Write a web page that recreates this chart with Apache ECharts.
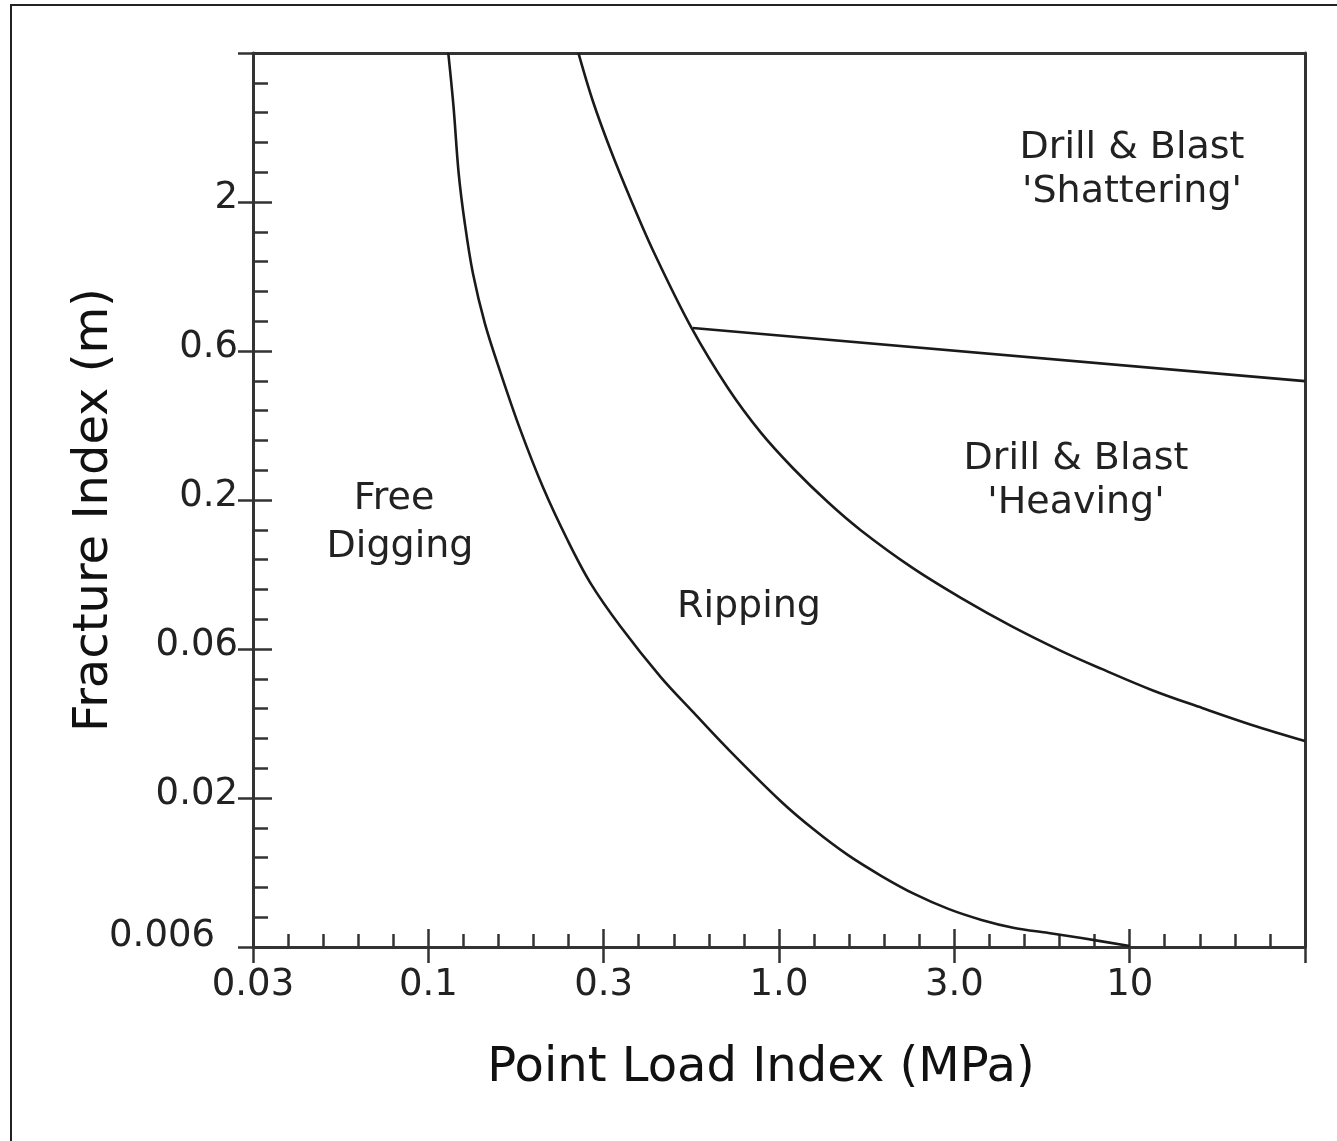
<!DOCTYPE html>
<html>
<head>
<meta charset="utf-8">
<script src="https://cdn.jsdelivr.net/npm/echarts@6/dist/echarts.min.js"></script>
<style>
html,body{margin:0;padding:0;background:#fff;}
#chart{width:1337px;height:1141px;}
</style>
</head>
<body>
<div id="chart"></div>
<script>
// ---- Data ----
// Tick labels (half-decade steps)
const xTickLabels = ['0.03', '0.1', '0.3', '1.0', '3.0', '10', ''];
const yTickLabels = ['0.006', '0.02', '0.06', '0.2', '0.6', '2', ''];

// Boundary: Free Digging / Ripping  (Point Load Index MPa, Fracture Index m)
const digRipX = [0.114, 0.118, 0.122, 0.127, 0.134, 0.145, 0.161, 0.183, 0.212, 0.249, 0.290, 0.354, 0.460, 0.572, 0.706, 1.01, 1.26, 1.57, 1.96, 2.43, 3.04, 3.78, 4.69, 5.87, 7.29, 10.0];
const digRipY = [6.30, 4.16, 2.50, 1.70, 1.15, 0.78, 0.53, 0.343, 0.221, 0.147, 0.105, 0.0748, 0.0508, 0.0385, 0.0296, 0.0195, 0.0156, 0.01285, 0.01092, 0.00951, 0.00847, 0.00778, 0.00731, 0.00703, 0.00676, 0.00636];

// Boundary: Ripping / Drill & Blast
const ripBlastX = [0.268, 0.294, 0.331, 0.378, 0.440, 0.561, 0.715, 0.889, 1.10, 1.38, 1.71, 2.38, 3.31, 4.60, 6.39, 8.32, 11.6, 16.1, 22.3, 31.6];
const ripBlastY = [6.30, 4.38, 2.98, 2.03, 1.35, 0.760, 0.474, 0.335, 0.254, 0.196, 0.158, 0.119, 0.0935, 0.0753, 0.0621, 0.0541, 0.0459, 0.0400, 0.0351, 0.0310];

// Boundary: Heaving / Shattering
const heaveShatterX = [0.568, 31.6];
const heaveShatterY = [0.754, 0.500];

// Region labels
const regionTexts = ['Drill & Blast', "'Shattering'", 'Drill & Blast', "'Heaving'", 'Free', 'Digging', 'Ripping'];

// ---- Axis ranges in log10 units ----
const X_MIN = -1.5, X_MAX = 1.5, Y_MIN = -2.2, Y_MAX = 0.8, STEP = 0.5;

function toPairs(xs, ys) {
  return xs.map((v, i) => [Math.log10(v), Math.log10(ys[i])]);
}

const FONT = '"DejaVu Sans", Verdana, sans-serif';
const AX = '#333';
const TXT = '#222';

const chart = echarts.init(document.getElementById('chart'), null, {renderer: 'canvas'});

function xLabel(v) {
  const i = Math.round((v - X_MIN) / STEP);
  return xTickLabels[i] || '';
}
function yLabel(v) {
  const i = Math.round((v - Y_MIN) / STEP);
  const t = yTickLabels[i] || '';
  return i === 0 ? '{low|' + t + '}' : t;
}

const lineW = 3, tickW = 2.5;

const option = {
  animation: false,
  backgroundColor: '#fff',
  grid: {left: 253, right: 32, top: 53, bottom: 194, containLabel: false},
  xAxis: [
    {
      type: 'value', position: 'bottom', min: X_MIN, max: X_MAX, interval: STEP,
      axisLine: {show: true, onZero: false, lineStyle: {color: AX, width: lineW}},
      axisTick: {show: true, inside: true, length: 18, lineStyle: {color: AX, width: tickW}},
      minorTick: {show: true, splitNumber: 5, length: 13, lineStyle: {color: AX, width: tickW}},
      splitLine: {show: false},
      axisLabel: {formatter: xLabel, margin: 20, fontSize: 37, fontFamily: FONT, color: TXT, hideOverlap: false, showMinLabel: true, showMaxLabel: true},
      name: 'Point Load Index (MPa)', nameLocation: 'middle', nameGap: 98, nameMoveOverlap: false,
      nameTextStyle: {fontSize: 48, fontFamily: FONT, color: '#111', padding: [0, 36, 0, 0]}
    },
    {
      type: 'value', position: 'bottom', min: X_MIN, max: X_MAX, interval: STEP,
      axisLine: {show: false, onZero: false},
      axisTick: {show: true, inside: false, length: 16, lineStyle: {color: AX, width: tickW}},
      axisLabel: {show: false}, splitLine: {show: false}
    },
    {
      type: 'value', position: 'top', min: X_MIN, max: X_MAX, interval: STEP,
      axisLine: {show: true, onZero: false, lineStyle: {color: AX, width: lineW}},
      axisTick: {show: false}, axisLabel: {show: false}, splitLine: {show: false}
    }
  ],
  yAxis: [
    {
      type: 'value', position: 'left', min: Y_MIN, max: Y_MAX, interval: STEP,
      axisLine: {show: true, onZero: false, lineStyle: {color: AX, width: lineW}},
      axisTick: {show: true, inside: true, length: 19, lineStyle: {color: AX, width: tickW}},
      minorTick: {show: true, splitNumber: 5, length: 15, lineStyle: {color: AX, width: tickW}},
      splitLine: {show: false},
      axisLabel: {
        formatter: yLabel, margin: 15, fontSize: 37, fontFamily: FONT, color: TXT,
        hideOverlap: false, showMinLabel: true, showMaxLabel: true, padding: [0, 0, 8, 0],
        rich: {low: {fontSize: 37, fontFamily: FONT, color: TXT, padding: [0, 23, 14, 0]}}
      },
      name: 'Fracture Index (m)', nameLocation: 'middle', nameGap: 134, nameMoveOverlap: false,
      nameTextStyle: {fontSize: 48, fontFamily: FONT, color: '#111', padding: [0, 20, 0, 0]}
    },
    {
      type: 'value', position: 'left', min: Y_MIN, max: Y_MAX, interval: STEP,
      axisLine: {show: false, onZero: false},
      axisTick: {show: true, inside: false, length: 15, lineStyle: {color: AX, width: tickW}},
      axisLabel: {show: false}, splitLine: {show: false}
    },
    {
      type: 'value', position: 'right', min: Y_MIN, max: Y_MAX, interval: STEP,
      axisLine: {show: true, onZero: false, lineStyle: {color: AX, width: lineW}},
      axisTick: {show: false}, axisLabel: {show: false}, splitLine: {show: false}
    }
  ],
  series: [
    {name: 'Free Digging / Ripping', type: 'line', xAxisIndex: 0, yAxisIndex: 0, data: toPairs(digRipX, digRipY),
     smooth: 0.35, symbol: 'none', lineStyle: {color: '#1a1a1a', width: 2.6}},
    {name: 'Ripping / Drill & Blast', type: 'line', xAxisIndex: 0, yAxisIndex: 0, data: toPairs(ripBlastX, ripBlastY),
     smooth: 0.35, symbol: 'none', lineStyle: {color: '#1a1a1a', width: 2.6}},
    {name: 'Heaving / Shattering', type: 'line', xAxisIndex: 0, yAxisIndex: 0, data: toPairs(heaveShatterX, heaveShatterY),
     symbol: 'none', lineStyle: {color: '#1a1a1a', width: 2.6}}
  ],
  graphic: [
    {type: 'rect', silent: true, shape: {x: 11, y: 5, width: 1400, height: 1200}, style: {fill: 'none', stroke: '#222', lineWidth: 2}},
    {type: 'text', x: 1132, y: 148, style: {text: regionTexts[0], font: '38px ' + FONT, fill: TXT, align: 'center', verticalAlign: 'middle'}},
    {type: 'text', x: 1132, y: 192, style: {text: regionTexts[1], font: '38px ' + FONT, fill: TXT, align: 'center', verticalAlign: 'middle'}},
    {type: 'text', x: 1076, y: 459, style: {text: regionTexts[2], font: '38px ' + FONT, fill: TXT, align: 'center', verticalAlign: 'middle'}},
    {type: 'text', x: 1076, y: 503, style: {text: regionTexts[3], font: '38px ' + FONT, fill: TXT, align: 'center', verticalAlign: 'middle'}},
    {type: 'text', x: 394, y: 499, style: {text: regionTexts[4], font: '38px ' + FONT, fill: TXT, align: 'center', verticalAlign: 'middle'}},
    {type: 'text', x: 400, y: 547, style: {text: regionTexts[5], font: '38px ' + FONT, fill: TXT, align: 'center', verticalAlign: 'middle'}},
    {type: 'text', x: 749, y: 607, style: {text: regionTexts[6], font: '38px ' + FONT, fill: TXT, align: 'center', verticalAlign: 'middle'}}
  ]
};

chart.setOption(option);
</script>
</body>
</html>
